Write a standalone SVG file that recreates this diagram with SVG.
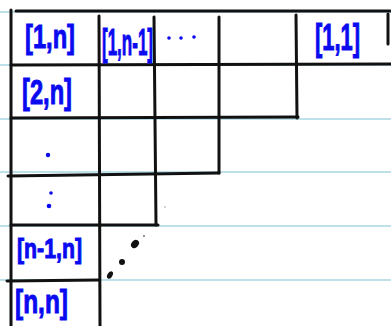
<svg xmlns="http://www.w3.org/2000/svg" width="391" height="326" viewBox="0 0 391 326">
<style>
.rule{stroke:#bde0ea;stroke-width:2}
.ink{stroke:#111;stroke-width:3;fill:none;stroke-linecap:round}
.lbl{font-family:"Liberation Sans",Arial,sans-serif;font-weight:bold;fill:#0a0af0;stroke:#0a0af0;stroke-width:1}
.dot{fill:#0a0af0}
.bk{fill:#111}
</style>
<rect width="391" height="326" fill="#fff"/>
<g id="ruled-lines">
<line class="rule" x1="0" y1="12" x2="391" y2="12"/>
<line class="rule" x1="0" y1="65" x2="391" y2="65"/>
<line class="rule" x1="0" y1="119" x2="391" y2="119"/>
<line class="rule" x1="0" y1="172" x2="391" y2="172"/>
<line class="rule" x1="0" y1="226" x2="391" y2="226"/>
<line class="rule" x1="0" y1="280" x2="391" y2="280"/>
</g>
<g id="grid">
<line class="ink" x1="16" y1="11" x2="390" y2="11"/>
<line class="ink" x1="11" y1="10" x2="11" y2="326"/>
<line class="ink" x1="99" y1="16" x2="100" y2="326"/>
<line class="ink" x1="154" y1="17" x2="156" y2="225"/>
<line class="ink" x1="219" y1="17" x2="219" y2="173"/>
<line class="ink" x1="296" y1="15" x2="297" y2="118"/>
<line class="ink" x1="388" y1="14" x2="388" y2="44"/>
<line class="ink" x1="11" y1="65" x2="391" y2="64"/>
<line class="ink" x1="11" y1="118" x2="298" y2="117"/>
<line class="ink" x1="8" y1="176" x2="219" y2="173"/>
<line class="ink" x1="11" y1="225" x2="158" y2="225"/>
<line class="ink" x1="7" y1="281" x2="99" y2="280"/>
</g>
<g id="labels">
<text class="lbl" x="25" y="48" style="font-size:33px" textLength="50" lengthAdjust="spacingAndGlyphs">[1,n]</text>
<text class="lbl" x="102" y="55" style="font-size:36px" textLength="51" lengthAdjust="spacingAndGlyphs">[1,n-1]</text>
<text class="lbl" x="315" y="50" style="font-size:36px" textLength="45" lengthAdjust="spacingAndGlyphs">[1,1]</text>
<text class="lbl" x="22" y="104" style="font-size:35px" textLength="50" lengthAdjust="spacingAndGlyphs">[2,n]</text>
<text class="lbl" x="17" y="258" style="font-size:27px" textLength="65" lengthAdjust="spacingAndGlyphs">[n-1,n]</text>
<text class="lbl" x="15" y="313" style="font-size:33px" textLength="53" lengthAdjust="spacingAndGlyphs">[n,n]</text>
</g>
<g id="ellipsis-dots">
<circle class="dot" cx="169" cy="38" r="1.8"/>
<circle class="dot" cx="181" cy="38" r="1.8"/>
<circle class="dot" cx="194" cy="37" r="1.8"/>
<circle class="dot" cx="48" cy="155" r="2.2"/>
<circle class="dot" cx="51" cy="193" r="1.8"/>
<circle class="dot" cx="49" cy="206" r="2.3"/>
</g>
<g id="diagonal-dots">
<ellipse class="bk" cx="110" cy="275" rx="2.5" ry="4" transform="rotate(30 110 275)"/>
<circle class="bk" cx="122" cy="262" r="3"/>
<ellipse class="bk" cx="135" cy="244" rx="3.5" ry="4.5" transform="rotate(40 135 244)"/>
<circle class="bk" cx="144" cy="236" r="0.8"/>
<circle cx="165" cy="207" r="0.7" fill="#888"/>
</g>
</svg>
